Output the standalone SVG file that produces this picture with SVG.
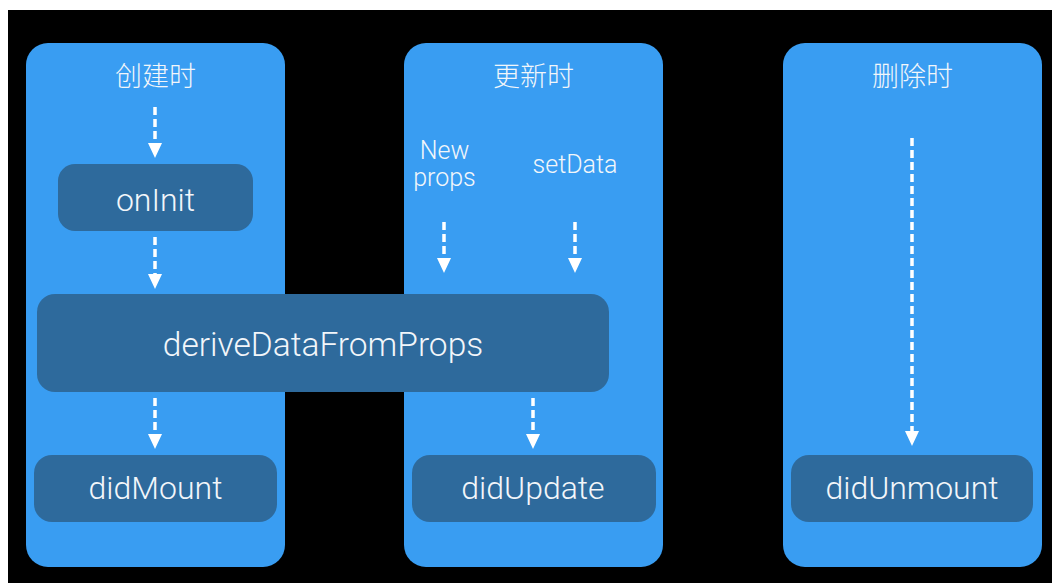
<svg xmlns="http://www.w3.org/2000/svg" width="1052" height="583" viewBox="0 0 1052 583">
  <defs>
    <style>
      .panel { fill: #399DF2; }
      .node { fill: #2E6A9C; }
      .title { font-family: "Noto Sans CJK SC", "Noto Sans", sans-serif; font-size: 27px; font-weight: 300; fill: #F2F6FA; text-anchor: middle; }
      .label { font-family: Roboto, "Liberation Sans", sans-serif; font-weight: 300; font-size: 32px; fill: #F2F6FA; text-anchor: middle; }
      .big { font-size: 33.5px; }
      .small { font-family: Roboto, "Liberation Sans", sans-serif; font-weight: 300; font-size: 25px; fill: #F2F6FA; text-anchor: middle; }
      .conn { stroke: #FFFFFF; stroke-width: 3.5; stroke-dasharray: 8 4; fill: none; }
    </style>
    <marker id="head" markerUnits="userSpaceOnUse" viewBox="0 -7 15 14" refX="0" refY="0" markerWidth="15" markerHeight="14" orient="auto">
      <path d="M0,-7 L15,0 L0,7 Z" fill="#FFFFFF"/>
    </marker>
  </defs>

  <rect x="0" y="0" width="1052" height="583" fill="#FFFFFF"/>
  <rect x="8" y="10" width="1044" height="573" fill="#000000"/>

  <g id="panel-create">
    <rect class="panel" x="26" y="43" width="259" height="524" rx="22" ry="22"/>
    <text class="title" x="155.5" y="86">创建时</text>
  </g>
  <g id="panel-update">
    <rect class="panel" x="404" y="43" width="259" height="524" rx="22" ry="22"/>
    <text class="title" x="533.5" y="86">更新时</text>
    <text class="small" x="444.5" y="159">New</text>
    <text class="small" x="444.5" y="186">props</text>
    <text class="small" x="575" y="173">setData</text>
  </g>
  <g id="panel-delete">
    <rect class="panel" x="783" y="43" width="259" height="524" rx="22" ry="22"/>
    <text class="title" x="912.5" y="86">删除时</text>
  </g>

  <g id="node-onInit">
    <rect class="node" x="58" y="164" width="195" height="67" rx="17" ry="17"/>
    <text class="label" x="155.5" y="211">onInit</text>
  </g>
  <g id="node-deriveDataFromProps">
    <rect class="node" x="37" y="294" width="572" height="98" rx="18" ry="18"/>
    <text class="label big" x="323" y="356">deriveDataFromProps</text>
  </g>
  <g id="node-didMount">
    <rect class="node" x="34" y="455" width="243" height="67" rx="18" ry="18"/>
    <text class="label" x="155.5" y="499">didMount</text>
  </g>
  <g id="node-didUpdate">
    <rect class="node" x="412" y="455" width="244" height="67" rx="18" ry="18"/>
    <text class="label" x="533" y="499">didUpdate</text>
  </g>
  <g id="node-didUnmount">
    <rect class="node" x="791" y="455" width="242" height="67" rx="18" ry="18"/>
    <text class="label" x="912" y="499">didUnmount</text>
  </g>

  <g id="connectors">
    <line class="conn" x1="155" y1="107" x2="155" y2="143" marker-end="url(#head)"/>
    <line class="conn" x1="155" y1="237" x2="155" y2="274" marker-end="url(#head)"/>
    <line class="conn" x1="155" y1="398" x2="155" y2="434" marker-end="url(#head)"/>
    <line class="conn" x1="444" y1="222" x2="444" y2="258" marker-end="url(#head)"/>
    <line class="conn" x1="575" y1="222" x2="575" y2="258" marker-end="url(#head)"/>
    <line class="conn" x1="533" y1="398" x2="533" y2="434" marker-end="url(#head)"/>
    <line class="conn" x1="912" y1="138" x2="912" y2="431" marker-end="url(#head)"/>
  </g>
</svg>
